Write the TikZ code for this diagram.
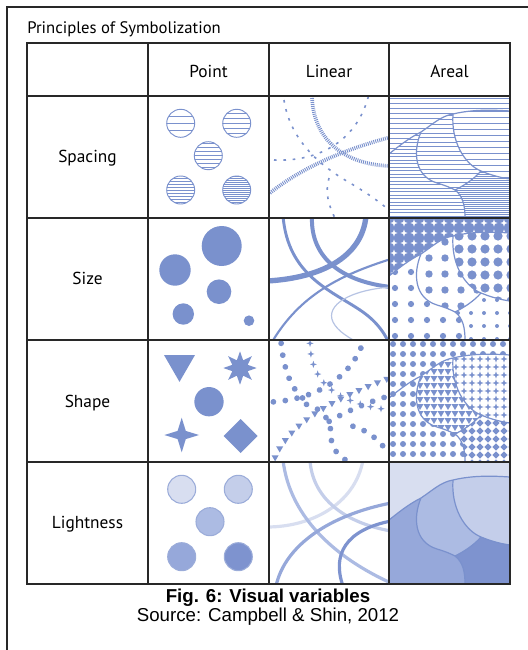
\documentclass[tikz,border=0pt]{standalone}
\usepackage{fontspec}
\setmainfont{PT Sans}
\newfontfamily\captionfont{Liberation Sans}
\usetikzlibrary{shapes.geometric, decorations.markings}

\definecolor{symblue}{RGB}{122,145,205}
\definecolor{rulegray}{RGB}{40,40,40}
\definecolor{tone1}{RGB}{216,222,240}
\definecolor{tone2}{RGB}{196,206,234}
\definecolor{tone3}{RGB}{172,187,227}
\definecolor{tone4}{RGB}{150,168,218}
\definecolor{tone5}{RGB}{126,147,207}

\tikzstyle{rule} = [draw=rulegray, line width=1pt]
\tikzstyle{head} = [anchor=base, 
font=\fontsize{13}{15}\selectfont]
\tikzstyle{caption} = [anchor=base, 
inner sep=0pt, 
font=\captionfont\fontsize{14}{16}\selectfont]
\tikzstyle{boldcaption} = [caption, 
font=\captionfont\bfseries\fontsize{14}{16}\selectfont]
\tikzstyle{hatch} = [draw=symblue, line width=0.7pt]
\tikzstyle{coast} = [draw=symblue, line width=0.9pt]
\tikzstyle{rail} = [draw=symblue, 
line width=2.8pt, 
dash pattern=on 0.7pt off 0.8pt]
\tikzstyle{ticks} = [draw=symblue, 
line width=1.2pt, 
dash pattern=on 2pt off 5pt]
\tikzstyle{shapesym} = [fill=symblue, inner sep=0pt, outer sep=0pt]

% small symbols, drawn around (0,0)
\newcommand\smalltri{(-3.5,-2) -- (3.5,-2) -- (0,4) -- cycle}
\newcommand\smalldiamond{(0,-3.6) -- (3.6,0) -- (0,3.6) -- (-3.6,0) -- cycle}
\newcommand\smallstar{(0,-3.6) .. controls (0.6,-0.6) .. (3.6,0) .. controls (0.6,0.6) .. (0,3.6) .. controls (-0.6,0.6) .. (-3.6,0) .. controls (-0.6,-0.6) .. (0,-3.6) -- cycle}

% the little map used in the areal column (cell is 121 x 122)
\newcommand\zoneland{(0,58) .. controls (10,50) and (20,42) .. (32,36) .. controls (44,28) and (52,20) .. (64,18) .. controls (85,13) and (105,14) .. (121,15) -- (121,122) -- (0,122) -- cycle}
\newcommand\zoneleft{(0,58) .. controls (10,50) and (20,42) .. (32,36) .. controls (24,55) and (25,80) .. (48,87) .. controls (58,90) and (62,92) .. (66,94) .. controls (74,100) and (76,110) .. (76,122) -- (0,122) -- cycle}
\newcommand\zonelake{(64,18) .. controls (85,13) and (105,14) .. (121,15) -- (121,83) .. controls (114,82) and (104,80) .. (92,75) .. controls (75,68) and (62,45) .. (64,18) -- cycle}
\newcommand\zonecorner{(121,83) .. controls (114,82) and (104,80) .. (92,75) .. controls (84,84) and (74,90) .. (66,94) .. controls (74,100) and (76,110) .. (76,122) -- (121,122) -- cycle}
\newcommand\zoneborders{(0,58) .. controls (10,50) and (20,42) .. (32,36) .. controls (44,28) and (52,20) .. (64,18) .. controls (85,13) and (105,14) .. (121,15)
  (64,18) .. controls (62,45) and (75,68) .. (92,75) .. controls (104,80) and (114,82) .. (121,83)
  (32,36) .. controls (24,55) and (25,80) .. (48,87) .. controls (58,90) and (62,92) .. (66,94) .. controls (74,100) and (76,110) .. (76,122)
  (92,75) .. controls (84,84) and (74,90) .. (66,94)}

\newcommand\hatchzone[3]{\begin{scope}\clip #1; \fill[white] (0,0) rectangle (121,122);
  \foreach \yy in {#2,#3,...,123} \draw[hatch] (0,\yy) -- (121,\yy);\end{scope}}
\newcommand\dotzone[4]{\begin{scope}\clip #1; \fill[white] (0,0) rectangle (121,122);
  \foreach \xx in {#2,#3,...,125} \foreach \yy in {#2,#3,...,125} \fill[symblue] (\xx,\yy) circle (#4);\end{scope}}
\newcommand\markzone[4]{\begin{scope}\clip #1; \fill[white] (0,0) rectangle (121,122);
  \foreach \xx in {#2,#3,...,125} \foreach \yy in {#2,#3,...,125} \fill[symblue, shift={(\xx,\yy)}] #4;\end{scope}}

\tikzset{
  dotline/.style={decoration={markings, mark=between positions 0.02 and 1 step 9pt with {\fill[symblue] (0,0) circle (2.9);}}, decorate},
  triline/.style={decoration={markings, mark=between positions 0.02 and 1 step 7.5pt with {\pgftransformresetnontranslations \fill[symblue] \smalltri;}}, decorate},
  crossline/.style={decoration={markings, mark=between positions 0.02 and 1 step 8pt with {\pgftransformresetnontranslations \fill[symblue] \smallstar;}}, decorate}
}

\begin{document}
\begin{tikzpicture}[x=0.75pt, y=-0.75pt]
\useasboundingbox (0,0) rectangle (528,650);
\draw[rule] (7,650) -- (7,7) -- (528,7);
\node (title) [anchor=base west, inner sep=0pt, font=\fontsize{12.5}{15}\selectfont] at (27,33) {Principles of Symbolization};

%% spacing
\foreach \cx/\cy/\gap in {180.7/123.3/7, 236.7/123.3/5, 208.3/155.7/4, 180.7/190/3, 236.7/190/2}{
  \begin{scope}
    \clip (\cx,\cy) circle (14);
    \foreach \k in {-8,...,8} \draw[hatch] (\cx-15,\cy+\k*\gap) -- (\cx+15,\cy+\k*\gap);
  \end{scope}
  \draw[hatch] (\cx,\cy) circle (14);
}
\begin{scope}
  \clip (269,96) rectangle (389,218);
  \draw[rail] (312,94) .. controls (312,140) and (345,165) .. (391,166);
  \draw[rail] (270,193) .. controls (305,165) and (350,148) .. (391,137);
  \draw[ticks] (284,100) .. controls (290,140) and (320,165) .. (345,180) .. controls (362,190) and (378,200) .. (391,212);
  \draw[ticks] (274,160) .. controls (320,162) and (358,140) .. (369,94);
  \draw[ticks] (329,178) .. controls (325,192) and (328,205) .. (336,220);
\end{scope}
\begin{scope}[shift={(389,96)}]
  \clip (0,0) rectangle (121,122);
  \foreach \yy in {2,7,...,123} \draw[hatch] (0,\yy) -- (121,\yy);
  \hatchzone{\zoneland}{1}{5.5}
  \hatchzone{\zonelake}{3}{9}
  \hatchzone{\zoneleft}{1}{4.5}
  \hatchzone{\zonecorner}{0.5}{2.5}
  \draw[coast] \zoneborders;
\end{scope}

%% size
\fill[symblue] (221.7,246) circle (20) (175,270) circle (15.7) (219,291.7) circle (12.3)
  (183.3,314) circle (10.7) (249,320.7) circle (5.3);
\begin{scope}
  \clip (269,218) rectangle (389,340);
  \draw[symblue, line width=4pt] (267,281) .. controls (320,278) and (362,258) .. (366,216);
  \draw[symblue, line width=3pt] (312,216) .. controls (310,260) and (345,282) .. (391,287);
  \draw[symblue, line width=2.2pt] (283,216) .. controls (288,275) and (330,290) .. (360,310) .. controls (375,320) and (385,332) .. (391,348);
  \draw[symblue, line width=1.6pt] (272,342) .. controls (300,295) and (340,275) .. (391,259);
  \draw[symblue!55, line width=0.9pt] (391,287) .. controls (350,290) and (325,305) .. (333,322) .. controls (338,332) and (350,338) .. (360,344);
\end{scope}
\begin{scope}[shift={(389,218)}]
  \clip (0,0) rectangle (121,122);
  \fill[symblue] (0,0) rectangle (121,122);
  \foreach \xx in {5,15,...,125} \foreach \yy in {5,15,...,125} \fill[white, shift={(\xx,\yy)}] \smallstar;
  \dotzone{\zoneland}{8}{24}{3.7}
  \dotzone{\zonelake}{5}{18}{4.6}
  \dotzone{\zoneleft}{6}{22}{3.1}
  \dotzone{\zonecorner}{4}{17}{2}
  \draw[coast] \zoneborders;
\end{scope}

%% shape
\node (tri) [shapesym, regular polygon, regular polygon sides=3, shape border rotate=180, minimum size=26.8pt] at (179.5,364) {};
\node (octo) [shapesym, star, star points=8, star point ratio=2, minimum size=25pt] at (240,368) {};
\node (disc) [shapesym, circle, minimum size=22pt] at (209,401.7) {};
\node (sparkle) [shapesym, star, star points=4, star point ratio=3, minimum size=26pt] at (181.7,435) {};
\node (rhombus) [shapesym, diamond, minimum size=25.5pt] at (240.7,436) {};
\begin{scope}
  \clip (269,340) rectangle (389,462);
  \path[dotline] (281,342) .. controls (284,372) and (292,390) .. (305,400);
  \path[dotline] (271,402) .. controls (310,400) and (350,382) .. (364,340);
  \path[dotline] (305,404) .. controls (322,408) and (331,420) .. (331,435) .. controls (331,448) and (338,456) .. (349,462);
  \path[dotline] (328,422) .. controls (345,412) and (368,402) .. (389,396);
  \path[dotline] (352,426) .. controls (368,430) and (382,442) .. (389,455);
  \path[crossline] (310,341) .. controls (310,378) and (330,402) .. (389,410);
  \path[triline] (274,460) .. controls (288,425) and (325,402) .. (389,378);
\end{scope}
\begin{scope}[shift={(389,340)}]
  \clip (0,0) rectangle (121,122);
  \dotzone{(0,0) rectangle (121,122)}{4}{14}{3}
  \markzone{\zoneland}{3}{10}{\smalltri}
  \markzone{\zonelake}{3}{11}{\smallstar}
  \dotzone{\zoneleft}{4}{14}{3}
  \markzone{\zonecorner}{3}{11}{\smalldiamond}
  \draw[coast] \zoneborders;
\end{scope}

%% lightness
\foreach \cx/\cy/\tone in {181.7/489.3/tone1, 238.3/489.3/tone2, 210/521.7/tone3, 181.7/556.7/tone4, 238.3/556.7/tone5}
  \filldraw[fill=\tone, draw=symblue!75, line width=0.8pt] (\cx,\cy) circle (14);
\begin{scope}
  \clip (269,462) rectangle (389,584);
  \draw[tone1, line width=2.4pt] (363,460) .. controls (355,505) and (310,527) .. (267,527);
  \draw[tone2, line width=2.4pt] (310,460) .. controls (312,495) and (340,522) .. (391,531);
  \draw[tone3, line width=2.4pt] (283,460) .. controls (290,520) and (340,560) .. (391,583);
  \draw[tone4, line width=2.4pt] (276,586) .. controls (285,545) and (330,515) .. (391,503);
  \draw[tone5, line width=2.4pt] (343,586) .. controls (332,555) and (345,530) .. (391,521);
\end{scope}
\begin{scope}[shift={(389,462)}]
  \clip (0,0) rectangle (121,122);
  \fill[tone1] (0,0) rectangle (121,122);
  \fill[tone3] \zoneland;
  \fill[tone2] \zonelake;
  \fill[tone4] \zoneleft;
  \fill[tone5] \zonecorner;
  \draw[coast] \zoneborders;
\end{scope}

%% table rules and labels
\draw[rule] (27,43) rectangle (510,584);
\foreach \x in {148,269,389} \draw[rule] (\x,43) -- (\x,584);
\foreach \y in {96,218,340,462} \draw[rule] (27,\y) -- (510,\y);

\node (point) [head] at (208.5,77) {Point};
\node (linear) [head] at (329,77) {Linear};
\node (areal) [head] at (449.5,77) {Areal};
\node (spacing) [head] at (87.5,162) {Spacing};
\node (size) [head] at (87.5,284) {Size};
\node (shape) [head] at (87.5,407) {Shape};
\node (lightness) [head] at (87.5,528) {Lightness};

\node (fig) [boldcaption] at (268,602) {Fig. 6: Visual variables};
\node (source) [caption] at (268,621) {Source: Campbell \& Shin, 2012};
\end{tikzpicture}
\end{document}
